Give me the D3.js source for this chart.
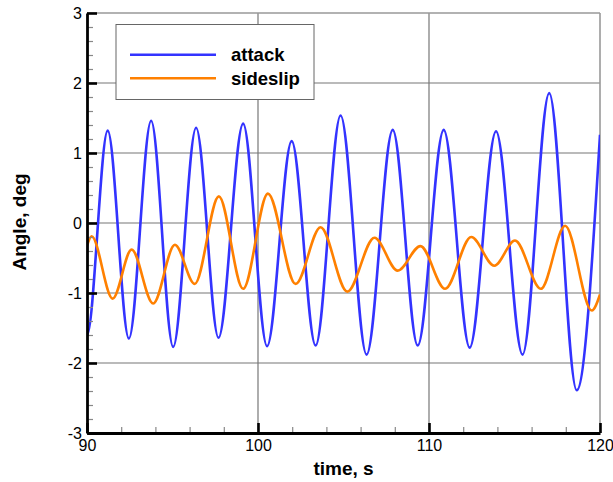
<!DOCTYPE html>
<html>
<head>
<meta charset="utf-8">
<script src="https://cdn.jsdelivr.net/npm/d3@7"></script>
<style>
  html, body { margin: 0; padding: 0; background: #fff; }
  svg { display: block; font-family: "Liberation Sans", Arial, sans-serif; }
</style>
</head>
<body>
<svg id="chart" width="613" height="482"></svg>
<script>
// ---- data ----
const attackTime  = [89.8, 90, 91.21, 92.45, 93.75, 95.04, 96.38, 97.69, 99.13, 100.53, 101.97, 103.37, 104.83, 106.35, 107.88, 109.34, 110.86, 112.38, 113.92, 115.47, 117.03, 118.64, 120];
const attackValue = [-1.5, -1.6, 1.32, -1.65, 1.46, -1.77, 1.36, -1.64, 1.42, -1.76, 1.17, -1.75, 1.535, -1.88, 1.33, -1.75, 1.33, -1.78, 1.31, -1.88, 1.855, -2.39, 1.26];

const sideslipTime  = [90, 90.27, 91.5, 92.61, 93.87, 95.14, 96.3, 97.71, 99.13, 100.58, 102.2, 103.66, 105.22, 106.81, 108.17, 109.5, 110.94, 112.47, 113.82, 115.03, 116.54, 117.96, 119.52, 120];
const sideslipValue = [-0.33, -0.19, -1.08, -0.38, -1.15, -0.31, -0.87, 0.38, -0.94, 0.42, -0.87, -0.06, -0.98, -0.21, -0.68, -0.33, -0.94, -0.2, -0.61, -0.25, -0.94, -0.04, -1.25, -1.02];

const xTicks = [90, 100, 110, 120];
const yTicks = [-3, -2, -1, 0, 1, 2, 3];
const xMinorTicks = [92, 94, 96, 98, 102, 104, 106, 108, 112, 114, 116, 118];
const yMinorTicks = [-2.8, -2.6, -2.4, -2.2, -1.8, -1.6, -1.4, -1.2, -0.8, -0.6, -0.4, -0.2,
                     0.2, 0.4, 0.6, 0.8, 1.2, 1.4, 1.6, 1.8, 2.2, 2.4, 2.6, 2.8];
const seriesNames = ["attack", "sideslip"];
const seriesColors = ["#3333ff", "#ff8000"];

// ---- layout ----
const L = 87, R = 600, T = 13, B = 433;
const svg = d3.select("#chart");
const x = d3.scaleLinear().domain([90, 120]).range([L, R]);
const y = d3.scaleLinear().domain([-3, 3]).range([B, T]);

// grid
const grid = svg.append("g");
grid.selectAll("line.h").data(yTicks.filter(d => d > -3 && d < 3)).enter().append("line")
  .attr("x1", L).attr("x2", R).attr("y1", d => y(d)).attr("y2", d => y(d))
  .attr("stroke", "#777").attr("stroke-width", 1.2);
grid.selectAll("line.v").data(xTicks.filter(d => d > 90 && d < 120)).enter().append("line")
  .attr("y1", T).attr("y2", B).attr("x1", d => x(d)).attr("x2", d => x(d))
  .attr("stroke", "#777").attr("stroke-width", 1.2);

// top / right frame
svg.append("line").attr("x1", L).attr("x2", R).attr("y1", T).attr("y2", T).attr("stroke", "#999").attr("stroke-width", 1.6);
svg.append("line").attr("x1", R).attr("x2", R).attr("y1", T).attr("y2", B).attr("stroke", "#999").attr("stroke-width", 1.6);

// data lines
svg.append("clipPath").attr("id", "clip").append("rect")
  .attr("x", L).attr("y", T).attr("width", R - L).attr("height", B - T);
const line = d3.line().x(d => x(d[0])).y(d => y(d[1])).curve(d3.curveMonotoneX);
const series = [d3.zip(attackTime, attackValue), d3.zip(sideslipTime, sideslipValue)];
const plot = svg.append("g").attr("clip-path", "url(#clip)");
series.forEach((s, i) => {
  plot.append("path").datum(s).attr("d", line)
    .attr("fill", "none").attr("stroke", seriesColors[i]).attr("stroke-width", 2.6)
    .attr("stroke-linejoin", "round");
});

// minor ticks
svg.append("g").attr("transform", `translate(${L},0)`)
  .call(d3.axisLeft(y).tickValues(yMinorTicks).tickSize(-6).tickFormat(""))
  .call(g => g.select(".domain").remove())
  .call(g => g.selectAll("line").attr("stroke", "#888").attr("stroke-width", 1.2));
svg.append("g").attr("transform", `translate(0,${B})`)
  .call(d3.axisBottom(x).tickValues(xMinorTicks).tickSize(-6).tickFormat(""))
  .call(g => g.select(".domain").remove())
  .call(g => g.selectAll("line").attr("stroke", "#888").attr("stroke-width", 1.2));

// major axes
const yAxis = svg.append("g").attr("transform", `translate(${L},0)`)
  .call(d3.axisLeft(y).tickValues(yTicks).tickSize(-10).tickPadding(5).tickFormat(d3.format("d")).tickSizeOuter(0));
const xAxis = svg.append("g").attr("transform", `translate(0,${B})`)
  .call(d3.axisBottom(x).tickValues(xTicks).tickSize(-10).tickPadding(7).tickFormat(d3.format("d")).tickSizeOuter(0));
[yAxis, xAxis].forEach(g => {
  g.select(".domain").attr("stroke", "#000").attr("stroke-width", 2.8);
  g.selectAll(".tick line").attr("stroke", "#000").attr("stroke-width", 2.6);
  g.selectAll("text").attr("fill", "#000").attr("font-size", 16)
    .attr("font-family", "'Liberation Sans', Arial, sans-serif")
    .text(function (d) { return d < 0 ? "-" + Math.abs(d) : d; });
});

// axis titles
svg.append("text").attr("x", (L + R) / 2).attr("y", 475).attr("text-anchor", "middle")
  .attr("font-size", 19).attr("font-weight", "bold").text("time, s");
svg.append("text").attr("transform", "translate(26,222) rotate(-90)").attr("text-anchor", "middle")
  .attr("font-size", 19).attr("font-weight", "bold").text("Angle, deg");

// legend
const lg = svg.append("g");
lg.append("rect").attr("x", 116).attr("y", 24.5).attr("width", 198).attr("height", 75)
  .attr("fill", "#fff").attr("stroke", "#666").attr("stroke-width", 1);
seriesNames.forEach((name, i) => {
  const yy = 54.7 + i * 23.6;
  lg.append("line").attr("x1", 130).attr("x2", 216).attr("y1", yy).attr("y2", yy)
    .attr("stroke", seriesColors[i]).attr("stroke-width", 2.6);
  lg.append("text").attr("x", 231).attr("y", yy + 6.3)
    .attr("font-size", 18.5).attr("font-weight", "bold").attr("fill", "#000").text(name);
});
</script>
</body>
</html>
